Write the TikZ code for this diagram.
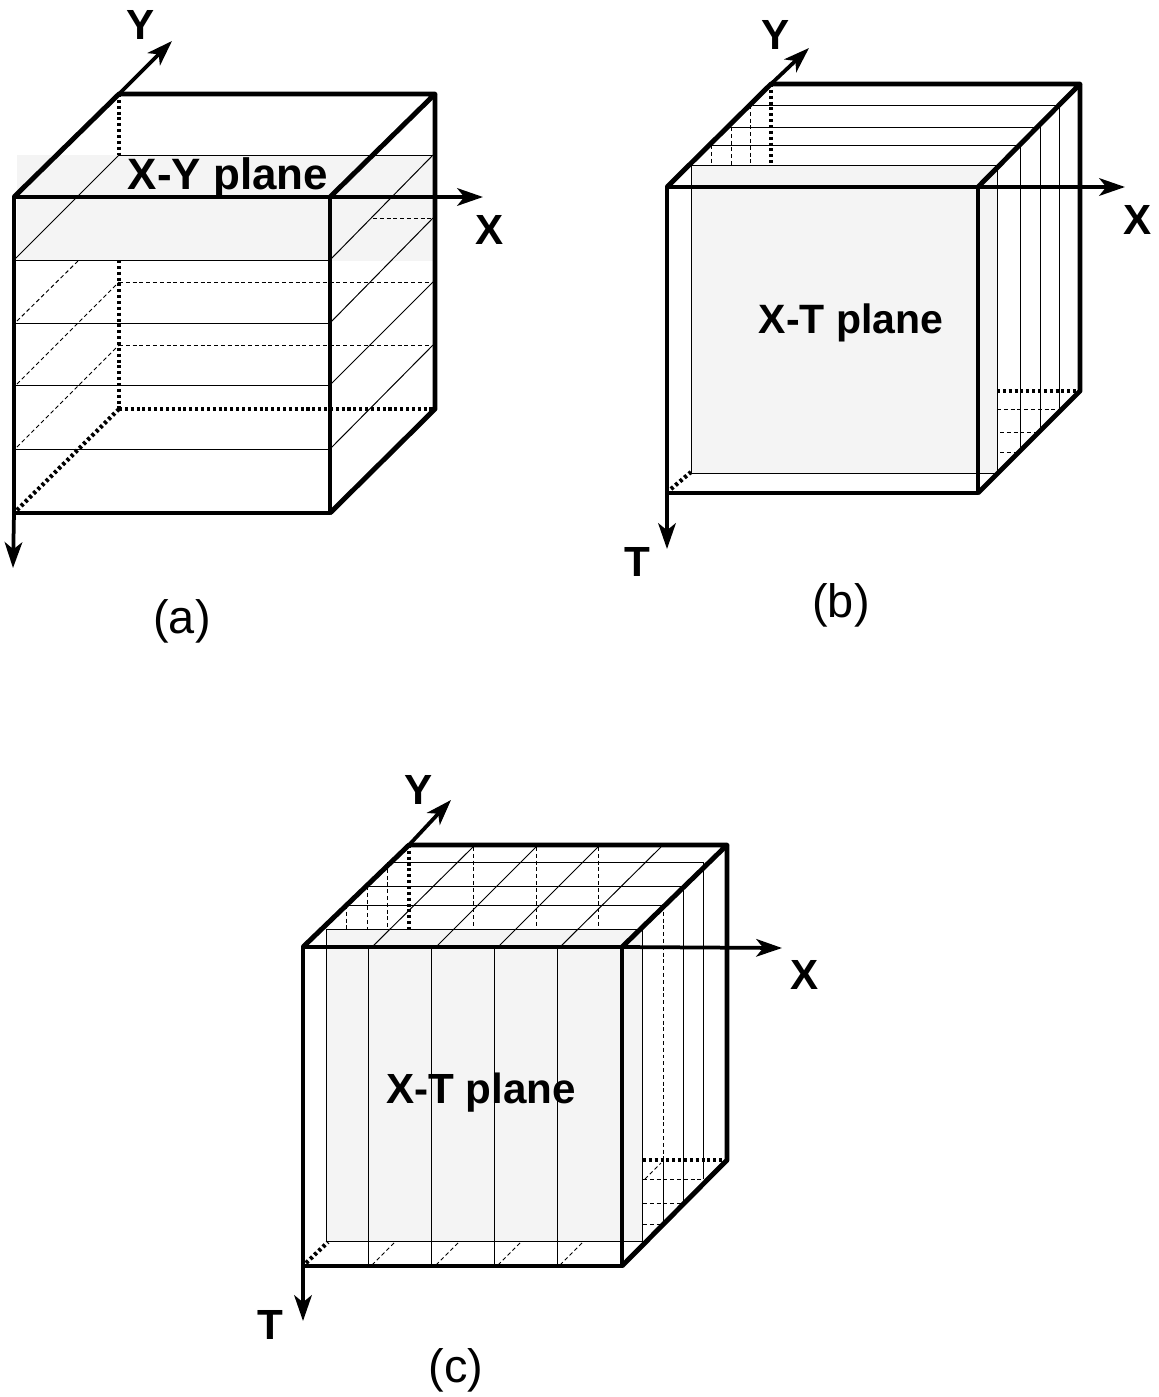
\documentclass[tikz,border=0pt]{standalone}
\usepackage{fontspec}
\setmainfont{Liberation Sans}
\usetikzlibrary{arrows.meta}
\definecolor{planegray}{RGB}{244,244,244}

\begin{document}
\begin{tikzpicture}[
    x=0.03cm, y=-0.03cm,
    edge/.style={line width=4.2pt, draw=black, line join=round},
    hiddenedge/.style={line width=3.6pt, draw=black, dash pattern=on 2.6pt off 2.4pt},
    thin line/.style={line width=0.85pt, draw=black},
    thin dash/.style={line width=0.85pt, draw=black, dash pattern=on 3.4pt off 2.4pt},
    plane/.style={fill=planegray, draw=none},
    arr/.style={-{Stealth[length=22pt, width=15pt, inset=6pt]}, line width=3.2pt, draw=black},
    axislabel/.style={font=\fontsize{36}{37}\selectfont\bfseries, inner sep=0pt},
    planelabel/.style={font=\fontsize{37.5}{38}\selectfont\bfseries, inner sep=0pt},
    caption/.style={font=\fontsize{40}{41}\selectfont, inner sep=0pt}
  ]
    \useasboundingbox (0,0) rectangle (1159,1397);

    % (a)
    \fill[plane] (17,155) rectangle (433,261);
    \coordinate (aftl) at (14,197);
    \coordinate (aftr) at (330,197);
    \coordinate (afbl) at (14,513);
    \coordinate (afbr) at (330,513);
    \coordinate (abtl) at (119,94);
    \coordinate (abtr) at (435,94);
    \coordinate (abbl) at (119,409);
    \coordinate (abbr) at (435,409);
    \coordinate (ay) at (172,41);
    \coordinate (ax) at (483,197);
    \coordinate (at) at (13,568);

    \foreach \yf/\yb in {260/155,323/218,385/282,449/345} {
      \draw[thin line] (14,\yf) -- (330,\yf);
      \draw[thin line] (330,\yf) -- (433,\yb);
    }
    \draw[thin line] (119,155) -- (433,155);
    \draw[thin line] (14,260) -- (119,155);
    \draw[thin dash] (373,218) -- (433,218);
    \draw[thin dash] (119,282) -- (433,282);
    \draw[thin dash] (119,345) -- (433,345);
    \draw[thin dash] (17,321) -- (79,260);
    \draw[thin dash] (17,384) -- (119,282);
    \draw[thin dash] (17,447) -- (119,345);

    \draw[hiddenedge] (abtl) -- (119,155);
    \draw[hiddenedge] (119,260) -- (abbl);
    \draw[hiddenedge] (abbl) -- (abbr);
    \draw[hiddenedge] (abbl) -- (afbl);
    \draw[edge] (aftl) rectangle (afbr);
    \draw[edge] (aftl) -- (abtl) -- (abtr) -- (aftr);
    \draw[edge] (abtr) -- (abbr) -- (afbr);
    \draw[arr] (abtl) -- (ay);
    \draw[arr] (aftr) -- (ax);
    \draw[arr] (afbl) -- (at);

    \node[axislabel] (aylabel) at (141,25) {Y};
    \node[axislabel] (axlabel) at (490,230) {X};
    \node[planelabel] (aplane) at (228,178) {X-Y plane};
    \node[caption] (acap) at (182,621) {(a)};

    % (b)
    \fill[plane] (691,165) rectangle (997,473);
    \coordinate (bftl) at (667,187);
    \coordinate (bftr) at (978,187);
    \coordinate (bfbl) at (667,493);
    \coordinate (bfbr) at (978,493);
    \coordinate (bbtl) at (771,84);
    \coordinate (bbtr) at (1080,84);
    \coordinate (bbbr) at (1080,391);
    \coordinate (by) at (809,48);
    \coordinate (bx) at (1125,187);
    \coordinate (bt) at (667,549);

    \draw[thin line] (691,165) rectangle (997,473);
    \foreach \xl/\xr/\yt/\yb in {710/1020/145/451,730/1040/127/430,753/1059/105/410} {
      \draw[thin line] (\xl,\yt) -- (\xr,\yt);
      \draw[thin line] (\xr,\yt) -- (\xr,\yb);
    }
    \draw[thin dash] (711,145) -- (711,165);
    \draw[thin dash] (731,127) -- (731,165);
    \draw[thin dash] (750,105) -- (750,165);
    \draw[thin dash] (997,409) -- (1059,409);
    \draw[thin dash] (1000,432) -- (1040,432);
    \draw[thin dash] (1000,452) -- (1020,452);

    \draw[hiddenedge] (bbtl) -- (771,165);
    \draw[hiddenedge] (997,391) -- (bbbr);
    \draw[hiddenedge] (671,489) -- (691,472);
    \draw[edge] (bftl) rectangle (bfbr);
    \draw[edge] (bftl) -- (bbtl) -- (bbtr) -- (bftr);
    \draw[edge] (bbtr) -- (bbbr) -- (bfbr);
    \draw[arr] (bbtl) -- (by);
    \draw[arr] (bftr) -- (bx);
    \draw[arr] (bfbl) -- (bt);

    \node[axislabel] (bylabel) at (776,35) {Y};
    \node[axislabel] (bxlabel) at (1138,220) {X};
    \node[axislabel] (btlabel) at (637,562) {T};
    \node[planelabel, font=\fontsize{35}{36}\selectfont\bfseries] (bplane) at (851,323) {X-T plane};
    \node[caption] (bcap) at (841,605) {(b)};

    % (c)
    \fill[plane] (326,929) rectangle (642,1241);
    \coordinate (cftl) at (303,947);
    \coordinate (cftr) at (622,947);
    \coordinate (cfbl) at (303,1266);
    \coordinate (cfbr) at (622,1266);
    \coordinate (cbtl) at (409,845);
    \coordinate (cbtr) at (727,845);
    \coordinate (cbbr) at (727,1160);
    \coordinate (cy) at (451,800);
    \coordinate (cx) at (782,948);
    \coordinate (ct) at (303,1321);

    \draw[thin line] (326,929) rectangle (642,1241);
    \foreach \xl/\xr/\yt/\ydash/\yb in {346/663/905/1224/1224,367/683/886/1203/1203,387/703/862/1179/1179} {
      \draw[thin line] (\xl,\yt) -- (\xr,\yt);
      \draw[thin dash] (\xl,\yt) -- (\xl,929);
      \draw[thin dash] (643,\ydash) -- (\xr,\ydash);
    }
    \draw[thin dash] (663,905) -- (663,1160);
    \draw[thin line] (663,1160) -- (663,1224);
    \draw[thin line] (683,886) -- (683,1203);
    \draw[thin line] (703,862) -- (703,1179);
    \draw[thin dash] (645,1179) -- (661,1163);
    \foreach \xf/\xd/\xb in {368/372/473,431/436/536,494/498/598,557/560/661} {
      \draw[thin line] (\xf,947) -- (\xf,1266);
      \draw[thin line] (\xd,947) -- (\xb,847);
      \draw[thin dash] (\xd,1265) -- ({\xd+23},1242);
    }
    \foreach \xb in {473,536,598} {
      \draw[thin dash] (\xb,847) -- (\xb,929);
    }

    \draw[hiddenedge] (cbtl) -- (409,929);
    \draw[hiddenedge] (643,1160) -- (cbbr);
    \draw[hiddenedge] (306,1263) -- (328,1242);
    \draw[edge] (cftl) rectangle (cfbr);
    \draw[edge] (cftl) -- (cbtl) -- (cbtr) -- (cftr);
    \draw[edge] (cbtr) -- (cbbr) -- (cfbr);
    \draw[arr] (cbtl) -- (cy);
    \draw[arr] (cftr) -- (cx);
    \draw[arr] (cfbl) -- (ct);

    \node[axislabel] (cylabel) at (419,790) {Y};
    \node[axislabel] (cxlabel) at (805,975) {X};
    \node[axislabel] (ctlabel) at (270,1325) {T};
    \node[planelabel, font=\fontsize{36}{37}\selectfont\bfseries] (cplane) at (481,1093) {X-T plane};
    \node[caption] (ccap) at (456,1370) {(c)};
  \end{tikzpicture}
\end{document}
